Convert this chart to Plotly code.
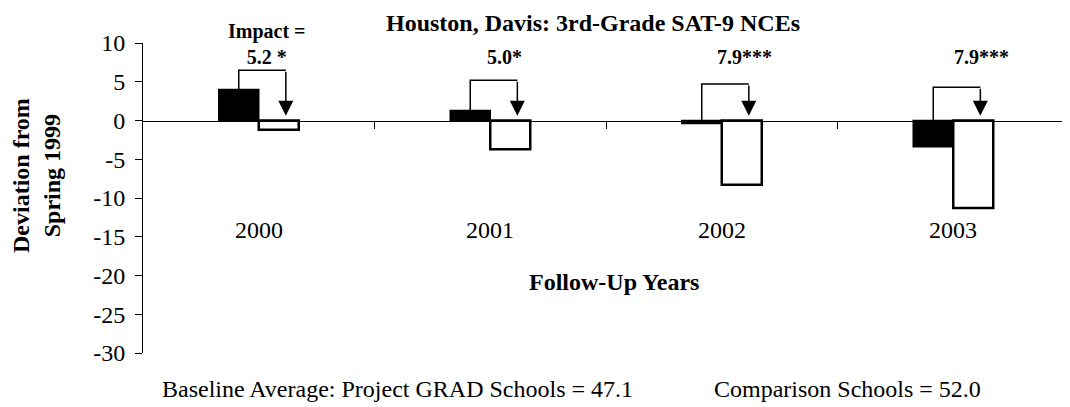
import plotly.graph_objects as go

# ---- data ----
years = ["2000", "2001", "2002", "2003"]
grad_schools = [4.0, 1.3, -0.4, -3.4]          # Project GRAD schools (black)
comparison_schools = [-1.2, -3.7, -8.3, -11.3]  # Comparison schools (white)
impact_labels = ["5.2 *", "5.0*", "7.9***", "7.9***"]
bracket_top = [6.5, 5.2, 4.7, 4.3]
y_ticks = [-30, -25, -20, -15, -10, -5, 0, 5, 10]

title_text = "Houston, Davis: 3rd-Grade SAT-9 NCEs"
y_title = "Deviation from<br>Spring 1999"
x_title = "Follow-Up Years"
baseline_left = "Baseline Average: Project GRAD Schools = 47.1"
baseline_right = "Comparison Schools = 52.0"

# ---- styling / layout constants ----
FONT = "Liberation Serif, Times New Roman, serif"
W, H = 1070, 407
OFF = 8  # page body margin offset
# plot area in page pixels: x 143..1069, y 43..353
ML, MT = 143 - OFF, 43 - OFF
MR = W - (1069 - OFF)
MB = H - (353 - OFF)
BW = 0.1728          # bar width in category units
RX = 0.117           # arrow x offset (right side)
label_xshift = [8, 14, 23, 28]

xs = list(range(len(years)))

def px_x(p):
    return (p - OFF - ML) / (W - ML - MR)

def px_y(p):
    return (H - MB - (p - OFF)) / (H - MT - MB)

fig = go.Figure()
fig.add_bar(x=xs, y=grad_schools, width=BW, offset=-BW,
            marker=dict(color="black", line=dict(color="black", width=1.5)),
            showlegend=False, hoverinfo="skip")
fig.add_bar(x=xs, y=comparison_schools, width=BW, offset=0,
            marker=dict(color="white", line=dict(color="black", width=2.5)),
            showlegend=False, hoverinfo="skip")

# bracket lines
bx, by = [], []
for i in xs:
    bx += [i - BW / 2, i - BW / 2, i + RX, None]
    by += [max(grad_schools[i], 0), bracket_top[i], bracket_top[i], None]
fig.add_scatter(x=bx, y=by, mode="lines", line=dict(color="black", width=1.5),
                showlegend=False, hoverinfo="skip", cliponaxis=False)

annotations = []
for i in xs:
    tip = max(comparison_schools[i], 0) + 0.6
    annotations.append(dict(x=i + RX, y=tip, ax=i + RX, ay=bracket_top[i],
                            xref="x", yref="y", axref="x", ayref="y",
                            text="", showarrow=True, arrowhead=2, arrowsize=2,
                            arrowwidth=1.5, arrowcolor="black"))
    label = impact_labels[i]
    if i == 0:
        label = "Impact =<br>" + label
        yc = px_y(44)
    else:
        yc = px_y(57)
    annotations.append(dict(x=i, y=yc, xref="x", yref="paper", text="<b>%s</b>" % label,
                            showarrow=False, xshift=label_xshift[i],
                            font=dict(family=FONT, size=20, color="black"),
                            xanchor="center", yanchor="middle"))
    annotations.append(dict(x=i, y=-14.1, xref="x", yref="y", text=years[i],
                            showarrow=False, font=dict(family=FONT, size=24, color="black"),
                            xanchor="center", yanchor="middle"))

annotations += [
    dict(x=px_x(593), y=px_y(OFF), xref="paper", yref="paper", text="<b>%s</b>" % title_text,
         showarrow=False, font=dict(family=FONT, size=24, color="black"),
         xanchor="center", yanchor="top"),
    dict(x=px_x(614), y=-20.8, xref="paper", yref="y", text="<b>%s</b>" % x_title,
         showarrow=False, font=dict(family=FONT, size=24, color="black"),
         xanchor="center", yanchor="middle"),
    dict(x=px_x(36), y=px_y(176), xref="paper", yref="paper", text="<b>%s</b>" % y_title,
         showarrow=False, textangle=-90, font=dict(family=FONT, size=24, color="black"),
         xanchor="center", yanchor="middle"),
    dict(x=px_x(160), y=px_y(389), xref="paper", yref="paper", text=baseline_left,
         showarrow=False, font=dict(family=FONT, size=24, color="black"),
         xanchor="left", yanchor="middle"),
    dict(x=px_x(712), y=px_y(389), xref="paper", yref="paper", text=baseline_right,
         showarrow=False, font=dict(family=FONT, size=24, color="black"),
         xanchor="left", yanchor="middle"),
]

fig.update_layout(
    width=W, height=H,
    margin=dict(l=ML, r=MR, t=MT, b=MB, pad=0),
    paper_bgcolor="white", plot_bgcolor="white",
    barmode="overlay",
    showlegend=False,
    annotations=annotations,
    font=dict(family=FONT, size=24, color="black"),
    xaxis=dict(range=[-0.5, 3.5], anchor="free", position=0.75,
               showline=True, linecolor="black", linewidth=1,
               ticks="outside", ticklen=7, tickcolor="black", tickwidth=1,
               tickvals=[0.5, 1.5, 2.5, 3.5], showticklabels=False,
               showgrid=False, zeroline=False, fixedrange=True),
    yaxis=dict(range=[-30, 10], tickvals=y_ticks,
               ticktext=[str(v) for v in y_ticks],
               showline=True, linecolor="black", linewidth=1,
               ticks="outside", ticklen=7, tickcolor="black", tickwidth=1,
               ticklabelstandoff=5,
               tickfont=dict(family=FONT, size=24, color="black"),
               showgrid=False, zeroline=False, fixedrange=True),
)

fig.write_html("out.html")
